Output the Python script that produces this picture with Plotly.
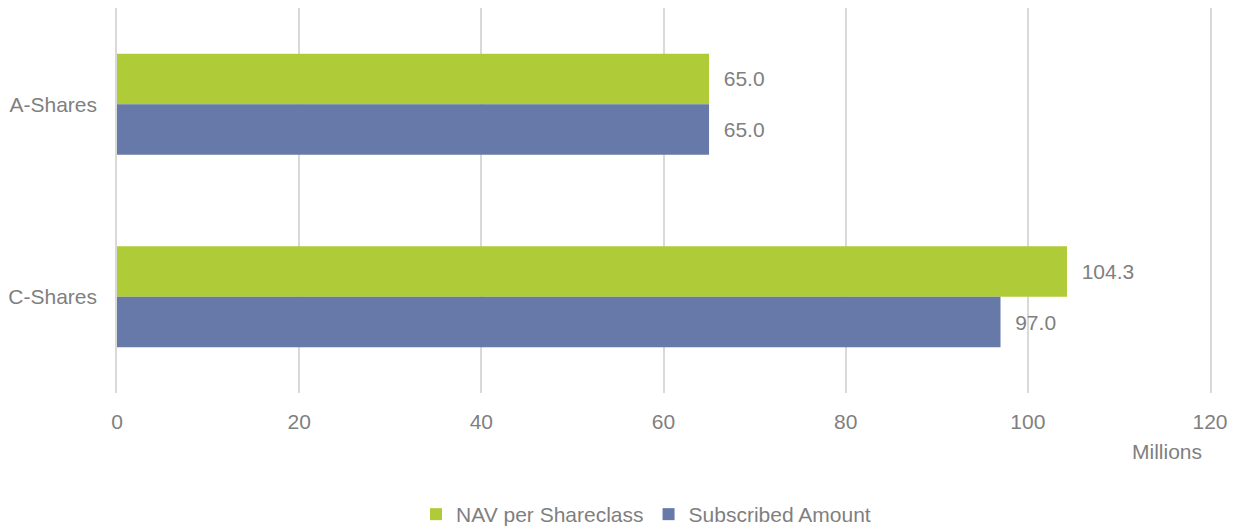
import plotly.graph_objects as go

categories = ["A-Shares", "C-Shares"]
nav_values = [65.0, 104.3]
subscribed_values = [65.0, 97.0]
series_names = ["NAV per Shareclass", "Subscribed Amount"]
x_ticks = [0, 20, 40, 60, 80, 100, 120]

GREEN = "#AFCB37"
BLUE = "#6679A8"
TEXT = "#7F7F7F"
GRID = "#D9D9D9"
FONT = "Liberation Sans, Arial, sans-serif"
FS = 21

fig = go.Figure()
for name, vals, col in [(series_names[0], nav_values, GREEN),
                        (series_names[1], subscribed_values, BLUE)]:
    fig.add_trace(go.Bar(
        y=categories, x=vals, name=name, orientation="h",
        marker=dict(color=col, line=dict(width=0)),
        texttemplate="  %{x:.1f}", textposition="outside",
        textfont=dict(color=TEXT, size=FS, family=FONT),
        cliponaxis=False,
    ))

# page body has an 8px default margin; margins below compensate for it
fig.update_layout(
    width=1238, height=527,
    margin=dict(l=109, r=36, t=0, b=142),
    paper_bgcolor="white", plot_bgcolor="white",
    barmode="group", bargap=0.475, bargroupgap=0,
    font=dict(family=FONT, size=FS, color=TEXT),
    showlegend=True,
    legend=dict(orientation="h", x=0.484, xanchor="center", y=-0.317, yanchor="middle",
                font=dict(size=FS, color=TEXT), itemwidth=30, traceorder="normal"),
    xaxis=dict(range=[0, 120], tickvals=x_ticks, showgrid=True, gridcolor=GRID,
               gridwidth=1.5, zeroline=False, showline=False, automargin=False,
               ticks="outside", ticklen=10, tickcolor="rgba(0,0,0,0)",
               tickfont=dict(size=FS, color=TEXT)),
    yaxis=dict(autorange="reversed", showgrid=False, zeroline=False,
               showline=True, mirror=True, linecolor=GRID, linewidth=1.5,
               automargin=False,
               ticks="outside", ticklen=14, tickcolor="rgba(0,0,0,0)",
               tickfont=dict(size=FS, color=TEXT)),
    annotations=[dict(text="Millions", xref="paper", yref="paper", x=0.9607, y=-0.153,
                      xanchor="center", yanchor="middle", showarrow=False,
                      font=dict(size=FS, color=TEXT))],
)

fig.write_html("out.html")
